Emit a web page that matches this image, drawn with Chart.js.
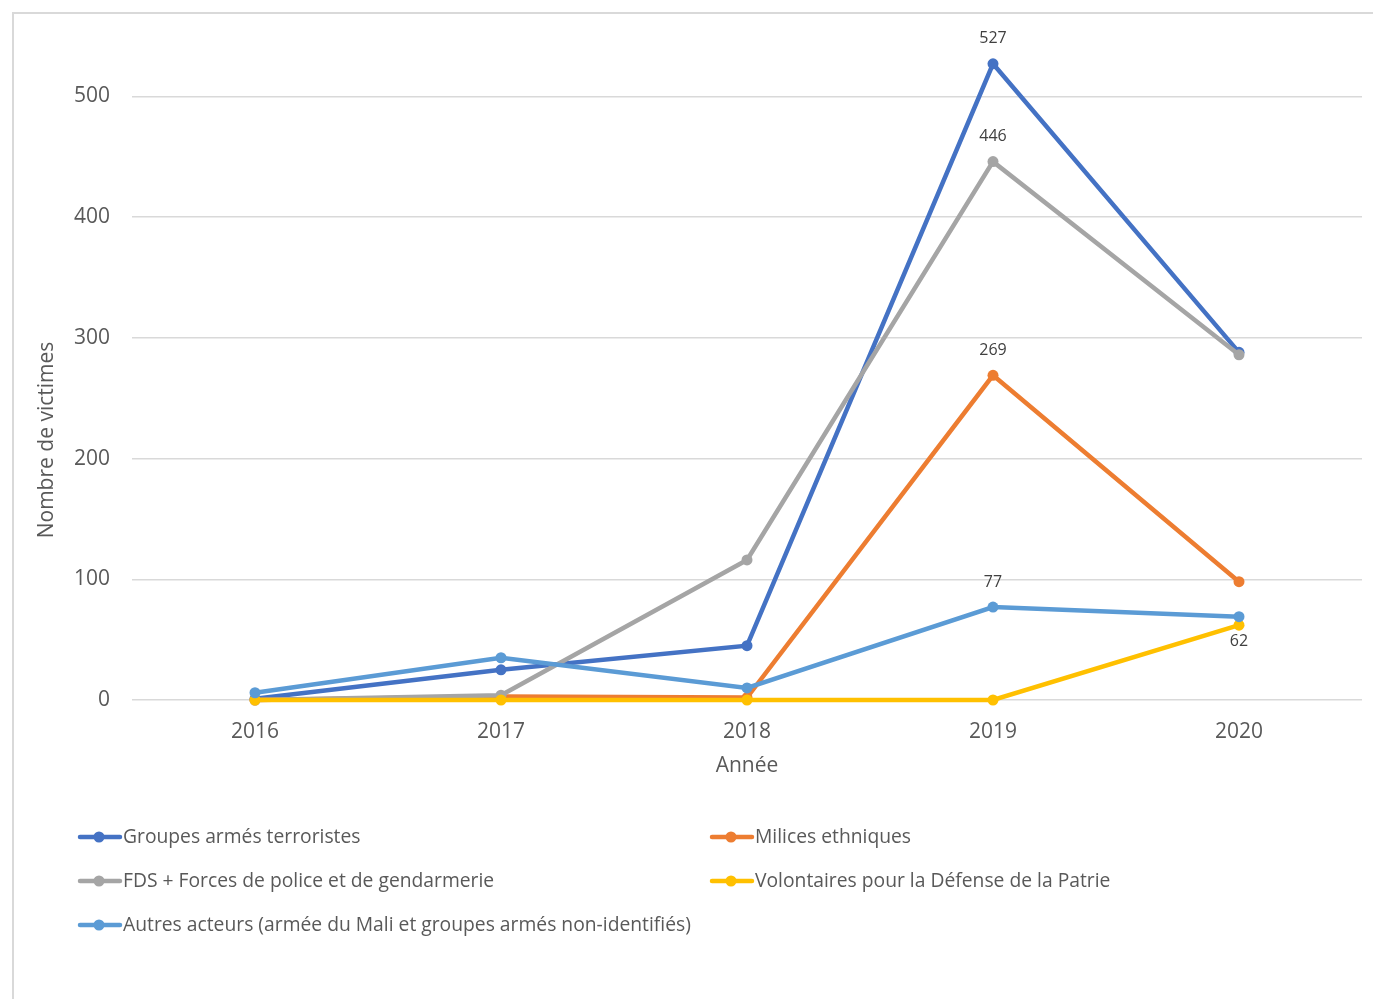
<!DOCTYPE html>
<html>
<head>
<meta charset="utf-8">
<script src="https://cdn.jsdelivr.net/npm/chart.js@4"></script>
<style>
  html, body { margin: 0; padding: 0; background: #fff; }
  #wrap { position: relative; width: 1373px; height: 999px; overflow: hidden; }
  #frame { position: absolute; left: 12px; top: 12px; width: 1400px; height: 1100px; border: 2px solid #d9d9d9; box-sizing: border-box; }
  canvas { position: absolute; left: 0; top: 0; }
</style>
</head>
<body>
<div id="wrap">
  <div id="frame"></div>
  <canvas id="chart" width="1373" height="999"></canvas>
</div>
<script>
// années
var annees = ['2016', '2017', '2018', '2019', '2020'];

// nombre de victimes par auteur
var groupesArmes = [1, 25, 45, 527, 288];
var milices = [0, 3, 2, 269, 98];
var fds = [0, 4, 116, 446, 286];
var volontaires = [0, 0, 0, 0, 62];
var autres = [6, 35, 10, 77, 69];

var noms = [
  'Groupes armés terroristes',
  'Milices ethniques',
  'FDS + Forces de police et de gendarmerie',
  'Volontaires pour la Défense de la Patrie',
  'Autres acteurs (armée du Mali et groupes armés non-identifiés)'
];
var couleurs = ['#4472C4', '#ED7D31', '#A5A5A5', '#FFC000', '#5B9BD5'];

// étiquettes affichées : [série, index, position]
var etiquettes = [[0, 3, 'haut'], [2, 3, 'haut'], [1, 3, 'haut'], [4, 3, 'haut'], [3, 4, 'bas']];

var series = [groupesArmes, milices, fds, volontaires, autres];
var police = '"Open Sans", "Noto Sans", sans-serif';

var datasets = series.map(function (d, i) {
  return {
    label: noms[i],
    data: d,
    borderColor: couleurs[i],
    backgroundColor: couleurs[i],
    borderWidth: 4.5,
    pointRadius: 5.5,
    pointHoverRadius: 5.5,
    pointBorderWidth: 0,
    tension: 0,
    clip: false,
    order: series.length - i
  };
});

// étiquettes de données
var pluginEtiquettes = {
  id: 'etiquettes',
  afterDatasetsDraw: function (chart) {
    var ctx = chart.ctx;
    ctx.save();
    ctx.font = '16px ' + police;
    ctx.fillStyle = '#404040';
    ctx.textAlign = 'center';
    ctx.textBaseline = 'middle';
    etiquettes.forEach(function (e) {
      var pt = chart.getDatasetMeta(e[0]).data[e[1]];
      var v = chart.data.datasets[e[0]].data[e[1]];
      var y = e[2] === 'haut' ? pt.y - 25 : pt.y + 16;
      ctx.fillText(String(v), pt.x, y);
    });
    ctx.restore();
  }
};

// titre de l'axe vertical et légende sur deux colonnes
var pluginLegende = {
  id: 'legende',
  afterDraw: function (chart) {
    var ctx = chart.ctx;
    ctx.save();
    ctx.fillStyle = '#595959';
    ctx.font = '21px ' + police;
    ctx.textAlign = 'center';
    ctx.textBaseline = 'middle';
    ctx.translate(47, 440);
    ctx.rotate(-Math.PI / 2);
    ctx.fillText('Nombre de victimes', 0, 0);
    ctx.restore();

    ctx.save();
    ctx.font = '19.3px ' + police;
    ctx.textBaseline = 'middle';
    ctx.textAlign = 'left';
    chart.data.datasets.forEach(function (ds, i) {
      var x = (i % 2 === 0) ? 78 : 710;
      var y = 837 + Math.floor(i / 2) * 44;
      ctx.strokeStyle = ds.borderColor;
      ctx.lineWidth = 4.5;
      ctx.lineCap = 'round';
      ctx.beginPath();
      ctx.moveTo(x + 2, y);
      ctx.lineTo(x + 42, y);
      ctx.stroke();
      ctx.fillStyle = ds.borderColor;
      ctx.beginPath();
      ctx.arc(x + 21, y, 5.5, 0, Math.PI * 2);
      ctx.fill();
      ctx.fillStyle = '#595959';
      ctx.fillText(ds.label, x + 45, y + 1);
    });
    ctx.restore();
  }
};

new Chart(document.getElementById('chart'), {
  type: 'line',
  data: { labels: annees, datasets: datasets },
  options: {
    responsive: false,
    animation: false,
    layout: { autoPadding: false, padding: { left: 0, right: 11, top: 24, bottom: 209 } },
    plugins: {
      legend: { display: false },
      tooltip: { enabled: false }
    },
    scales: {
      x: {
        offset: true,
        grid: { display: false, drawTicks: false },
        border: { display: false },
        ticks: { color: '#595959', font: { family: police, size: 21 }, padding: 19 },
        title: {
          display: true, text: 'Année', color: '#595959',
          font: { family: police, size: 21 }, padding: { top: 0, bottom: 11 }
        },
        afterFit: function (s) { s.height = 90; s.paddingLeft = 0; s.paddingRight = 0; }
      },
      y: {
        min: 0,
        max: 560,
        grid: { color: '#d9d9d9', lineWidth: 1.5, drawTicks: false },
        border: { display: false },
        ticks: { stepSize: 100, color: '#595959', font: { family: police, size: 21 }, padding: 22 },
        afterBuildTicks: function (s) {
          s.ticks = s.ticks.filter(function (t) { return t.value % 100 === 0; });
        },
        afterFit: function (s) { s.width = 132; s.paddingTop = 0; s.paddingBottom = 0; }
      }
    }
  },
  plugins: [pluginEtiquettes, pluginLegende]
});
</script>
</body>
</html>
